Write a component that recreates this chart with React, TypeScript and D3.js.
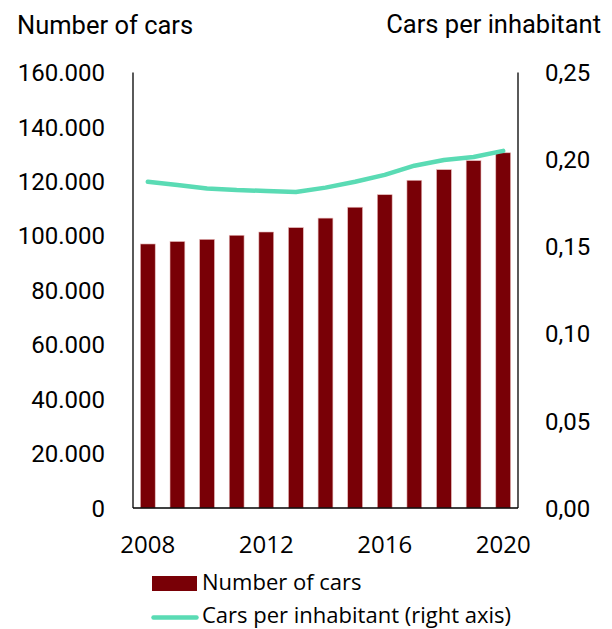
import React from "react";
import * as d3 from "d3";

const years = [2008, 2009, 2010, 2011, 2012, 2013, 2014, 2015, 2016, 2017, 2018, 2019, 2020];
const numberOfCars = [97000, 97900, 98700, 100200, 101400, 103000, 106500, 110500, 115100, 120400, 124300, 127600, 130500];
const carsPerInhabitant = [0.1873, 0.1854, 0.1834, 0.1825, 0.182, 0.1814, 0.1839, 0.1873, 0.1912, 0.1965, 0.1998, 0.2015, 0.205];
const leftTicks = [0, 20000, 40000, 60000, 80000, 100000, 120000, 140000, 160000];
const rightTicks = [0, 0.05, 0.1, 0.15, 0.2, 0.25];
const xTickYears = [2008, 2012, 2016, 2020];

const W = 612;
const H = 629;
const left = 133;
const right = 518;
const top = 72.5;
const bottom = 508;

const BAR = "#790006";
const LINE = "#5adbb4";

export default function App() {
  const x = d3.scaleBand<number>().domain(years).range([left, right]).paddingInner(0.5).paddingOuter(0.25);
  const yL = d3.scaleLinear().domain([0, 160000]).range([bottom, top]);
  const yR = d3.scaleLinear().domain([0, 0.25]).range([bottom, top]);
  const cx = (yr: number) => (x(yr) as number) + x.bandwidth() / 2;
  const line = d3
    .line<number>()
    .x((_, i) => cx(years[i]))
    .y((d) => yR(d));
  const fmtL = (v: number) => (v === 0 ? "0" : d3.format(",")(v).replace(/,/g, "."));
  const fmtR = (v: number) => v.toFixed(2).replace(".", ",");

  return (
    <div style={{ position: "fixed", left: 0, top: 0 }}>
      <svg width={W} height={H} style={{ display: "block", background: "#fff" }}>
        <text x={17} y={34} fontFamily="Roboto" fontSize={25.5} fill="#000">
          Number of cars
        </text>
        <text x={601} y={33} textAnchor="end" fontFamily="Roboto" fontSize={25.5} fill="#000">
          Cars per inhabitant
        </text>

        {numberOfCars.map((v, i) => (
          <rect
            key={years[i]}
            x={x(years[i])}
            y={yL(v)}
            width={x.bandwidth()}
            height={bottom - yL(v)}
            fill={BAR}
            stroke="#e6b8b8"
            strokeWidth={0.6}
          />
        ))}

        <path d={line(carsPerInhabitant) || ""} fill="none" stroke={LINE} strokeWidth={4.5} strokeLinecap="round" strokeLinejoin="round" />

        <line x1={left} x2={left} y1={top} y2={bottom} stroke="#000" strokeWidth={1.3} />
        <line x1={right} x2={right} y1={top} y2={bottom} stroke="#000" strokeWidth={1.3} />
        <line x1={left} x2={right} y1={bottom} y2={bottom} stroke="#000" strokeWidth={1.3} />

        {leftTicks.map((t) => (
          <text key={t} x={105} y={yL(t)} dy="0.36em" textAnchor="end" fontFamily="Roboto" fontSize={24} fill="#000">
            {fmtL(t)}
          </text>
        ))}
        {rightTicks.map((t) => (
          <text key={t} x={545} y={yR(t)} dy="0.36em" textAnchor="start" fontFamily="Roboto" fontSize={24} fill="#000">
            {fmtR(t)}
          </text>
        ))}
        {xTickYears.map((yr) => (
          <text key={yr} x={cx(yr)} y={553} textAnchor="middle" fontFamily="Open Sans" fontSize={24} fill="#000">
            {yr}
          </text>
        ))}

        <rect x={152} y={576} width={45} height={15} fill={BAR} />
        <text x={202} y={590} fontFamily="Open Sans" fontSize={22} fill="#000">
          Number of cars
        </text>
        <line x1={153.5} x2={196.5} y1={617.5} y2={617.5} stroke={LINE} strokeWidth={4.5} strokeLinecap="round" />
        <text x={202} y={623} fontFamily="Open Sans" fontSize={22} fill="#000">
          Cars per inhabitant (right axis)
        </text>
      </svg>
    </div>
  );
}
